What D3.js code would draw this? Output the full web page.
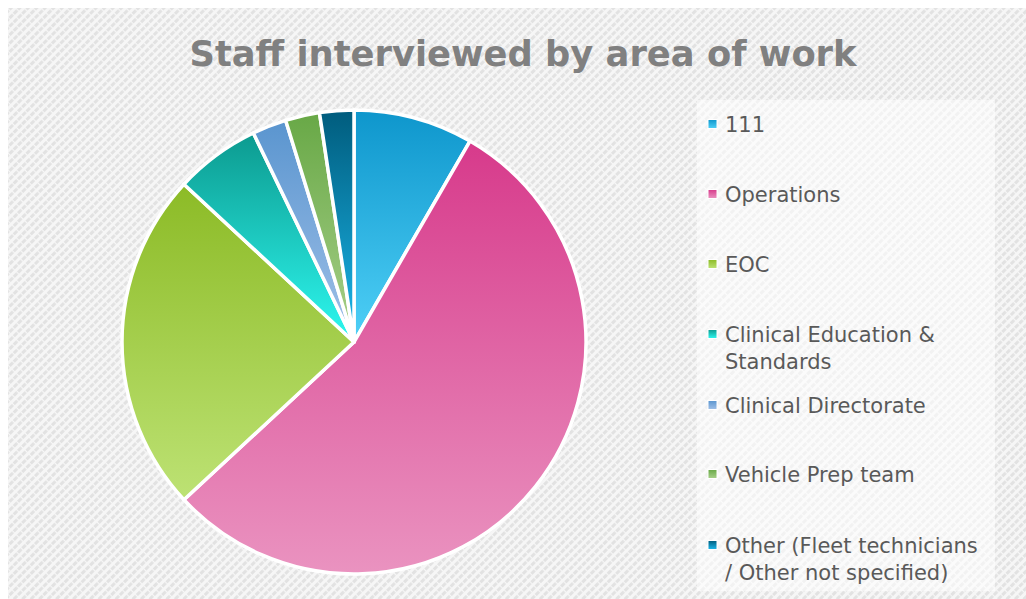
<!DOCTYPE html>
<html><head><meta charset="utf-8">
<script src="https://cdn.jsdelivr.net/npm/d3@7"></script>
<style>html,body{margin:0;padding:0;background:#fff;}svg{display:block;}</style>
</head><body>
<script>
const categories = ["111","Operations","EOC","Clinical Education & Standards","Clinical Directorate","Vehicle Prep team","Other (Fleet technicians / Other not specified)"];
const legendLines = [["111"],["Operations"],["EOC"],["Clinical Education &","Standards"],["Clinical Directorate"],["Vehicle Prep team"],["Other (Fleet technicians","/ Other not specified)"]];
const values = [7,46,20,5,2,2,2];
const topColors = ["#0e96cc","#d73a8b","#8cbb26","#0c9a8f","#5a95cf","#68a846","#005c7d"];
const bottomColors = ["#4fd0f7","#ea93c0","#bde274","#2ef8f0","#a0c0e8","#a8d08a","#1cb8ec"];
const title = "Staff interviewed by area of work";

const W=1026,H=599;
const svg=d3.select("body").append("svg").attr("width",W).attr("height",H);
const defs=svg.append("defs");
const pat=defs.append("pattern").attr("id","bgpat").attr("patternUnits","userSpaceOnUse")
  .attr("width",6).attr("height",6).attr("patternTransform","rotate(45)");
pat.append("rect").attr("width",6).attr("height",6).attr("fill","#f6f6f6");
pat.append("rect").attr("x",0).attr("y",0).attr("width",3).attr("height",6).attr("fill","#e2e2e2");
pat.append("rect").attr("x",0).attr("y",0).attr("width",6).attr("height",1.2).attr("fill","#f6f6f6");

categories.forEach((c,i)=>{
  const g=defs.append("linearGradient").attr("id","g"+i).attr("x1",0).attr("y1",0).attr("x2",0).attr("y2",1);
  g.append("stop").attr("offset","0%").attr("stop-color",topColors[i]);
  g.append("stop").attr("offset","100%").attr("stop-color",bottomColors[i]);
});

svg.append("rect").attr("x",8).attr("y",8).attr("width",W-8).attr("height",H-8).attr("fill","url(#bgpat)");

svg.append("text").attr("x",523).attr("y",66).attr("text-anchor","middle")
  .attr("font-family","DejaVu Sans").attr("font-weight","bold").attr("font-size",36)
  .attr("fill","#808080").attr("textLength",667).attr("lengthAdjust","spacingAndGlyphs").text(title);

const cx=354,cy=342,r=232;
const pie=d3.pie().sort(null).value(d=>d);
const arc=d3.arc().innerRadius(0).outerRadius(r);
const pg=svg.append("g").attr("transform",`translate(${cx},${cy})`);
pg.selectAll("path").data(pie(values)).join("path")
  .attr("d",arc).attr("fill",(d,i)=>`url(#g${i})`)
  .attr("stroke","#fff").attr("stroke-width",3.5).attr("stroke-linejoin","round");

// legend
svg.append("rect").attr("x",697).attr("y",100).attr("width",298).attr("height",491).attr("fill","#ffffff").attr("fill-opacity",0.55);
const ly=[124,194,264,334,405,474,545];
const lg=svg.append("g");
legendLines.forEach((lines,i)=>{
  lg.append("rect").attr("x",708).attr("y",ly[i]-4.5).attr("width",9).attr("height",9).attr("fill",`url(#g${i})`)
    .attr("stroke","#fff").attr("stroke-width",1);
  const t=lg.append("text").attr("x",725).attr("y",ly[i]+7.5)
    .attr("font-family","DejaVu Sans").attr("font-size",21).attr("fill","#595959");
  lines.forEach((ln,j)=>t.append("tspan").attr("x",725).attr("dy",j===0?0:27.5).text(ln));
});
</script>
</body></html>
